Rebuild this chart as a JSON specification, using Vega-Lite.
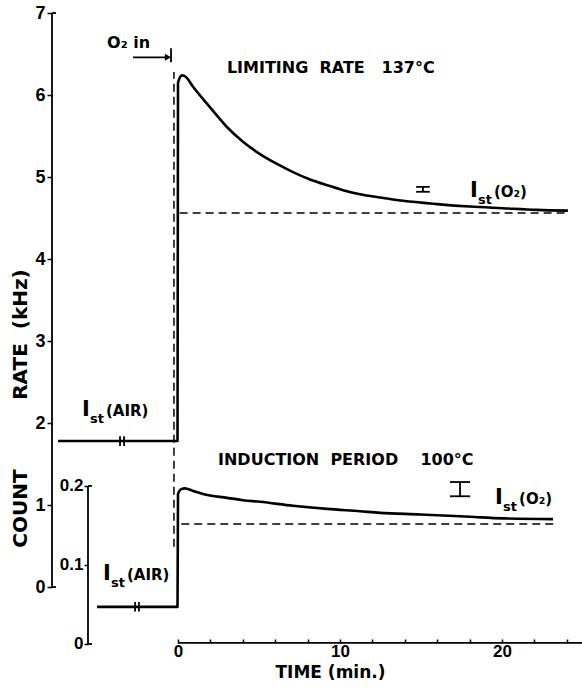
{
  "$schema": "https://vega.github.io/schema/vega-lite/v6.json",
  "autosize": {"type": "none"},
  "padding": {"left": 52, "top": 10, "right": 0, "bottom": 41},
  "width": 530,
  "height": 640,
  "background": "white",
  "config": {
    "view": {"stroke": null},
    "axis": {
      "grid": false,
      "domain": false,
      "tickColor": "black",
      "tickWidth": 1.5,
      "labelColor": "black",
      "labelFont": "Liberation Sans",
      "labelFontWeight": "bold",
      "titleColor": "black",
      "titleFont": "DejaVu Sans",
      "titleFontWeight": "bold",
      "labelOverlap": false
    }
  },
  "datasets": {
    "upper": [
      {"t": -7.41, "v": 1.78}, {"t": -0.03, "v": 1.78}, {"t": 0, "v": 6.15}, {"t": 0.25, "v": 6.24},
      {"t": 0.49, "v": 6.22}, {"t": 0.93, "v": 6.1}, {"t": 1.98, "v": 5.85}, {"t": 3.02, "v": 5.61},
      {"t": 4.01, "v": 5.43}, {"t": 5.06, "v": 5.28}, {"t": 6.11, "v": 5.16}, {"t": 7.1, "v": 5.06},
      {"t": 8.15, "v": 4.97}, {"t": 9.2, "v": 4.9}, {"t": 10.19, "v": 4.84}, {"t": 11.23, "v": 4.79},
      {"t": 12.47, "v": 4.75}, {"t": 13.89, "v": 4.71}, {"t": 15.99, "v": 4.67}, {"t": 18.02, "v": 4.64},
      {"t": 20.06, "v": 4.62}, {"t": 22.16, "v": 4.6}, {"t": 24.07, "v": 4.59}
    ],
    "lower": [
      {"t": -5.0, "u": 0.047}, {"t": -0.03, "u": 0.047}, {"t": 0, "u": 0.19}, {"t": 0.2, "u": 0.196},
      {"t": 0.43, "u": 0.197}, {"t": 0.9, "u": 0.194}, {"t": 1.54, "u": 0.19}, {"t": 3.02, "u": 0.185},
      {"t": 4.01, "u": 0.182}, {"t": 5.06, "u": 0.18}, {"t": 7.1, "u": 0.175}, {"t": 9.2, "u": 0.171},
      {"t": 11.23, "u": 0.168}, {"t": 12.47, "u": 0.166}, {"t": 14.94, "u": 0.164}, {"t": 18.02, "u": 0.161},
      {"t": 20.06, "u": 0.159}, {"t": 23.15, "u": 0.158}
    ],
    "ruleA": [
      {"t": -7.778, "t2": -7.778, "v": 0, "v2": 7},
      {"t": -7.778, "t2": -7.53, "v": 7, "v2": 7},
      {"t": -7.778, "t2": -7.53, "v": 0, "v2": 0},
      {"t": -3.58, "t2": -3.58, "v": 1.72, "v2": 1.84},
      {"t": -3.33, "t2": -3.33, "v": 1.72, "v2": 1.84},
      {"t": -2.78, "t2": -0.8, "v": 6.46, "v2": 6.46},
      {"t": -0.43, "t2": -0.43, "v": 6.4, "v2": 6.57},
      {"t": 15.12, "t2": 15.12, "v": 4.82, "v2": 4.88},
      {"t": 14.7, "t2": 15.54, "v": 4.88, "v2": 4.88},
      {"t": 14.7, "t2": 15.54, "v": 4.82, "v2": 4.82}
    ],
    "dashA": [
      {"t": 0.1, "t2": 24.1, "v": 4.56, "v2": 4.56},
      {"t": -0.25, "t2": -0.25, "v": 0.49, "v2": 6.28}
    ],
    "arrowA": [{"t": -0.62, "v": 6.46}],
    "textA": [
      {"t": 3.02, "v": 6.33, "label": "LIMITING\u00a0\u00a0RATE\u00a0\u00a0\u00a0137°C"},
      {"t": -4.38, "v": 6.63, "label": "O₂\u00a0in"}
    ],
    "istA": [
      {"t": -5.93, "v": 2.16, "rest": "(AIR)"},
      {"t": 18.02, "v": 4.83, "rest": "(O₂)"}
    ],
    "ruleB": [
      {"t": -5.556, "t2": -5.556, "u": 0, "u2": 0.2},
      {"t": -5.556, "t2": -5.31, "u": 0.2, "u2": 0.2},
      {"t": -5.556, "t2": -5.31, "u": 0, "u2": 0},
      {"t": -2.65, "t2": -2.65, "u": 0.041, "u2": 0.053},
      {"t": -2.41, "t2": -2.41, "u": 0.041, "u2": 0.053},
      {"t": 0, "t2": 24.94, "u": 0.0013, "u2": 0.0013},
      {"t": 17.41, "t2": 17.41, "u": 0.187, "u2": 0.205},
      {"t": 16.79, "t2": 18.03, "u": 0.187, "u2": 0.187},
      {"t": 16.79, "t2": 18.03, "u": 0.205, "u2": 0.205}
    ],
    "dashB": [
      {"t": 0.2, "t2": 23.2, "u": 0.152, "u2": 0.152}
    ],
    "textB": [
      {"t": 2.47, "u": 0.233, "label": "INDUCTION\u00a0\u00a0PERIOD\u00a0\u00a0\u00a0\u00a0100°C"}
    ],
    "istB": [
      {"t": -4.63, "u": 0.0886, "rest": "(AIR)"},
      {"t": 19.57, "u": 0.185, "rest": "(O₂)"}
    ]
  },
  "encoding": {
    "x": {
      "field": "t",
      "type": "quantitative",
      "scale": {"domain": [-7.778, 24.938], "nice": false, "zero": false},
      "axis": {
        "orient": "bottom",
        "offset": -7,
        "values": [0, 2, 4, 6, 8, 10, 12, 14, 16, 18, 20, 22, 24],
        "tickSize": -4,
        "labelExpr": "datum.value % 10 === 0 ? datum.label : ''",
        "labelFontSize": 17,
        "labelPadding": 4,
        "labelFlush": false,
        "title": "TIME (min.)",
        "titleFontSize": 17,
        "titleX": 278,
        "titleY": 29,
        "titleBaseline": "middle"
      }
    }
  },
  "layer": [
    {
      "encoding": {
        "y": {
          "field": "v",
          "type": "quantitative",
          "scale": {"domain": [-0.768, 7.037], "nice": false, "zero": false},
          "axis": {
            "orient": "left",
            "values": [0, 1, 2, 3, 4, 5, 6, 7],
            "tickSize": 5,
            "labelFontSize": 18,
            "labelPadding": 2,
            "title": "COUNT\u00a0\u00a0\u00a0\u00a0\u00a0\u00a0\u00a0\u00a0\u00a0\u00a0RATE\u00a0\u00a0(kHz)",
            "titleFontSize": 20,
            "titleX": -32,
            "titleY": 398,
            "titleAngle": 270,
            "titleAlign": "center",
            "titleBaseline": "middle"
          }
        }
      },
      "layer": [
        {"data": {"name": "upper"}, "mark": {"type": "line", "color": "black", "strokeWidth": 2.6, "strokeJoin": "round", "interpolate": "monotone"}, "encoding": {}},
        {"data": {"name": "ruleA"}, "mark": {"type": "rule", "color": "black", "strokeWidth": 1.8}, "encoding": {"x2": {"field": "t2"}, "y2": {"field": "v2"}}},
        {"data": {"name": "dashA"}, "mark": {"type": "rule", "color": "black", "strokeWidth": 1.5, "strokeDash": [8, 5]}, "encoding": {"x2": {"field": "t2"}, "y2": {"field": "v2"}}},
        {"data": {"name": "arrowA"}, "mark": {"type": "point", "shape": "triangle-right", "filled": true, "size": 50, "color": "black", "opacity": 1}},
        {"data": {"name": "textA"}, "mark": {"type": "text", "align": "left", "baseline": "middle", "font": "DejaVu Sans", "fontWeight": "bold", "fontSize": 16, "color": "black"}, "encoding": {"text": {"field": "label"}}},
        {"data": {"name": "istA"}, "mark": {"type": "text", "text": "I", "align": "left", "baseline": "middle", "font": "DejaVu Sans", "fontWeight": "bold", "fontSize": 21, "color": "black"}},
        {"data": {"name": "istA"}, "mark": {"type": "text", "text": "st", "align": "left", "baseline": "middle", "dx": 8, "dy": 9, "font": "DejaVu Sans", "fontWeight": "bold", "fontSize": 13, "color": "black"}},
        {"data": {"name": "istA"}, "mark": {"type": "text", "align": "left", "baseline": "middle", "dx": 24, "dy": 1, "font": "DejaVu Sans", "fontWeight": "bold", "fontSize": 15, "color": "black"}, "encoding": {"text": {"field": "rest"}}}
      ]
    },
    {
      "encoding": {
        "y": {
          "field": "u",
          "type": "quantitative",
          "scale": {"domain": [-0.0076, 0.8025], "nice": false, "zero": false},
          "axis": {
            "orient": "left",
            "offset": -36,
            "values": [0, 0.1, 0.2],
            "format": "~g",
            "tickSize": 4,
            "labelFontSize": 17,
            "labelPadding": 1,
            "title": null
          }
        }
      },
      "layer": [
        {"data": {"name": "lower"}, "mark": {"type": "line", "color": "black", "strokeWidth": 2.6, "strokeJoin": "round", "interpolate": "monotone"}, "encoding": {}},
        {"data": {"name": "ruleB"}, "mark": {"type": "rule", "color": "black", "strokeWidth": 1.8}, "encoding": {"x2": {"field": "t2"}, "y2": {"field": "u2"}}},
        {"data": {"name": "dashB"}, "mark": {"type": "rule", "color": "black", "strokeWidth": 1.5, "strokeDash": [8, 5]}, "encoding": {"x2": {"field": "t2"}, "y2": {"field": "u2"}}},
        {"data": {"name": "textB"}, "mark": {"type": "text", "align": "left", "baseline": "middle", "font": "DejaVu Sans", "fontWeight": "bold", "fontSize": 16, "color": "black"}, "encoding": {"text": {"field": "label"}}},
        {"data": {"name": "istB"}, "mark": {"type": "text", "text": "I", "align": "left", "baseline": "middle", "font": "DejaVu Sans", "fontWeight": "bold", "fontSize": 21, "color": "black"}},
        {"data": {"name": "istB"}, "mark": {"type": "text", "text": "st", "align": "left", "baseline": "middle", "dx": 8, "dy": 9, "font": "DejaVu Sans", "fontWeight": "bold", "fontSize": 13, "color": "black"}},
        {"data": {"name": "istB"}, "mark": {"type": "text", "align": "left", "baseline": "middle", "dx": 24, "dy": 1, "font": "DejaVu Sans", "fontWeight": "bold", "fontSize": 15, "color": "black"}, "encoding": {"text": {"field": "rest"}}}
      ]
    }
  ],
  "resolve": {"scale": {"y": "independent"}, "axis": {"y": "independent"}}
}
